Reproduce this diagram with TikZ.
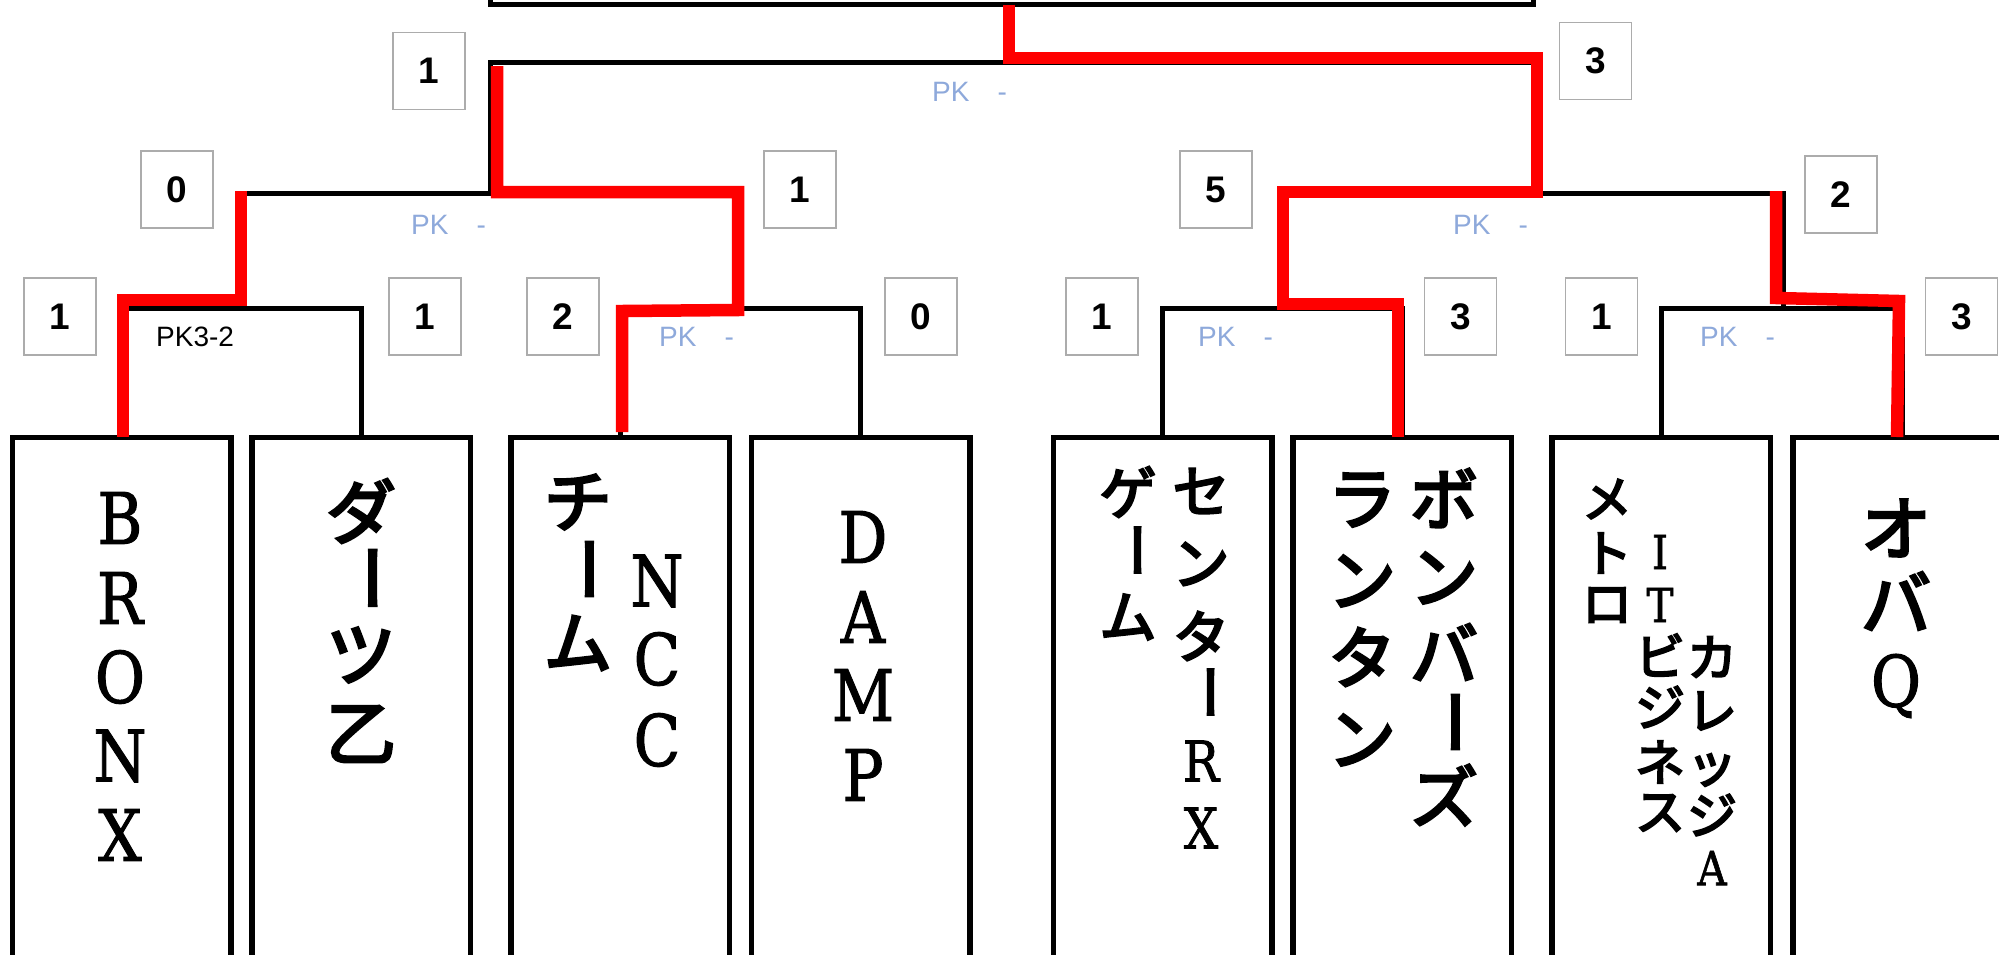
\documentclass[tikz,border=0pt]{standalone}
\usepackage{fontspec}
\usepackage{graphicx}
\newfontfamily\jp{Noto Sans CJK JP}[FakeBold=4]
\newfontfamily\lsans{Liberation Sans}
\newfontfamily\lat{DejaVu Serif}[FakeBold=1.5]
\definecolor{wred}{RGB}{255,0,0}
\definecolor{pkblue}{RGB}{142,169,219}
\definecolor{boxgray}{RGB}{172,172,172}
\newcommand\vbar{\rotatebox[origin=c]{-90}{ー}}
\newcommand\jpcol[4]{\foreach \yy/\ch [count=\i] in {#4}{\node[chr, font=\jp\fontsize{#3}{#3}\selectfont] (#1-\i) at (#2,\yy) {\ch};}}
\newcommand\latcol[4]{\foreach \yy/\ch [count=\i] in {#4}{\node[chr, font=\lat\fontsize{#3}{#3}\selectfont] (#1-\i) at (#2,\yy) {\scalebox{0.86}[1]{\ch}};}}
\begin{document}
\begin{tikzpicture}[x=1pt,y=-1pt,line join=miter,
  blk/.style={draw=black,line width=5pt},
  win/.style={draw=wred,line width=12.5pt},
  teambox/.style={draw=black,line width=5.5pt,minimum width=218.5pt,minimum height=540pt,inner sep=0pt},
  score/.style={draw=boxgray,line width=1.8pt,fill=white,minimum width=72pt,minimum height=77pt,inner sep=0pt,font=\lsans\bfseries\fontsize{37}{37}\selectfont},
  pk/.style={anchor=west,inner sep=0pt,text=pkblue,font=\lsans\fontsize{28}{28}\selectfont},
  pkb/.style={pk,text=black},
  chr/.style={inner sep=0pt,anchor=center}]
\useasboundingbox (0,0) rectangle (1999,954);
\fill[white] (0,0) rectangle (1999,954);

% top box
\draw[blk] (490,-20) rectangle (1533,4.5);
\coordinate (topc) at (1009,4.5);

% team boxes
\node[teambox] (t1) at (121.5,707.5) {};
\node[teambox] (t2) at (361,707.5) {};
\node[teambox] (t3) at (620,707.5) {};
\node[teambox] (t4) at (860.5,707.5) {};
\node[teambox] (t5) at (1162.5,707.5) {};
\node[teambox] (t6) at (1402,707.5) {};
\node[teambox] (t7) at (1661,707.5) {};
\node[teambox] (t8) at (1902,707.5) {};

% bracket junctions
\coordinate (m1) at (241,308);
\coordinate (m2) at (740,308);
\coordinate (m3) at (1282,308);
\coordinate (m4) at (1783,308);
\coordinate (q1) at (490.5,193);
\coordinate (q2) at (1533,193);
\coordinate (f0) at (1009,62);

% black brackets
\draw[blk] (t1.north) |- (m1) -| (t2.north);
\draw[blk] (t3.north) |- (m2) -| (t4.north);
\draw[blk] (t5.north) |- (m3) -| (t6.north);
\draw[blk] (t7.north) |- (m4) -| (t8.north);
\draw[blk] (m1) |- (q1) -| (m2);
\draw[blk] (m3) |- (q2) -| (m4);
\draw[blk] (q1) |- (f0) -| (q2);
\draw[blk] (f0) -- (topc);

% winner paths
\draw[win] (topc) -- (1009,58) -- (1537,58) -- (1537,192) -- (1283,192) -- (1283,304) -- (1398,304) -- (1398,437);
\draw[win] (497,66) -- (497,192) -- (738,192) -- (738,310) -- (622,311) -- (622,432);
\draw[win] (241,191) -- (241,300) -- (123,300) -- (123,437);
\draw[win] (1776,191) -- (1776,298) -- (1899,301) -- (1897,437);

% scores
\node[score] (sf1) at (429,71) {1};
\node[score] (sf2) at (1595.5,61) {3};
\node[score] (sq1) at (177,189.5) {0};
\node[score] (sq2) at (800,189.5) {1};
\node[score] (sq3) at (1216,189.5) {5};
\node[score] (sq4) at (1841,194.5) {2};
\node[score] (sr1) at (60,316.5) {1};
\node[score] (sr2) at (425,316.5) {1};
\node[score] (sr3) at (563,316.5) {2};
\node[score] (sr4) at (921,316.5) {0};
\node[score] (sr5) at (1102,316.5) {1};
\node[score] (sr6) at (1460.5,316.5) {3};
\node[score] (sr7) at (1601.5,316.5) {1};
\node[score] (sr8) at (1961.5,316.5) {3};

% PK labels
\node[pk] (pkf) at (932,92) {PK\hspace{28pt}-};
\node[pk] (pkq1) at (411,225) {PK\hspace{28pt}-};
\node[pk] (pkq2) at (1453,225) {PK\hspace{28pt}-};
\node[pkb] (pkr1) at (156,337) {PK3-2};
\node[pk] (pkr2) at (659,337) {PK\hspace{28pt}-};
\node[pk] (pkr3) at (1198,337) {PK\hspace{28pt}-};
\node[pk] (pkr4) at (1700,337) {PK\hspace{28pt}-};

% team names
\latcol{ta}{120}{71}{518/B,598/R,677/O,756/N,835/X}
\jpcol{tb}{361}{70}{511/ダ,578/\vbar,655/ツ,734/乙}
\jpcol{tc}{578}{68}{502/チ,569/\vbar,643/ム}
\latcol{td}{657}{71}{581/N,659/C,740/C}
\latcol{te}{863}{71}{537/D,617/A,695/M,775/P}
\jpcol{tf}{1128}{57}{492/ゲ,550/\vbar,617/ム}
\jpcol{tg}{1201}{57}{491/セ,564/ン,636/タ,692/\vbar}
\latcol{th}{1201}{56}{761/R,828/X}
\jpcol{ti}{1362}{68}{500/ラ,581/ン,657/タ,740/ン}
\jpcol{tj}{1444}{68}{498/ボ,578/ン,652/バ,722/\vbar,795/ズ}
\jpcol{tk}{1607}{50}{499/メ,553/ト,605/ロ}
\latcol{tl}{1660}{47}{552/I,605/T}
\jpcol{tm}{1660}{50}{655/ビ,707/ジ,762/ネ,813/ス}
\jpcol{tn}{1712}{50}{657/カ,711/レ,770/ッ,815/ジ}
\latcol{to}{1712}{47}{868/A}
\jpcol{tp}{1896}{70}{528/オ,601/バ}
\latcol{tq}{1896}{71}{686/Q}
\end{tikzpicture}
\end{document}
